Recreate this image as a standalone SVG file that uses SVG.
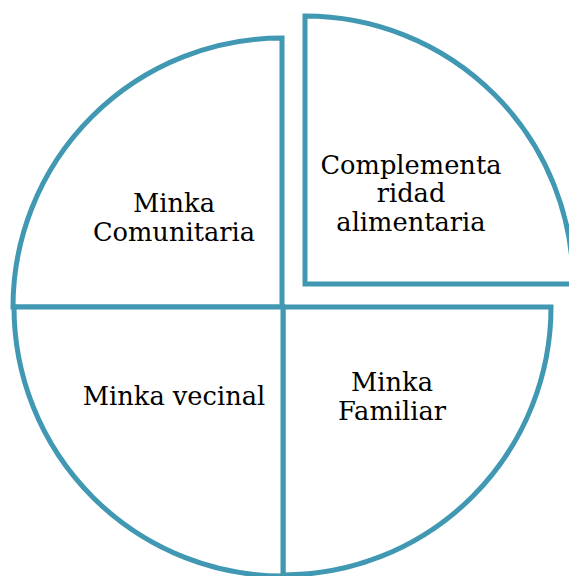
<svg xmlns="http://www.w3.org/2000/svg" width="569" height="576" viewBox="0 0 569 576">
<style>
.q{fill:#fff;stroke:#4198B2;stroke-width:5;stroke-linejoin:miter}
.t{font-family:"DejaVu Serif","Liberation Serif",serif;font-size:25.7px;fill:#000;text-anchor:middle}
</style>
<rect width="569" height="576" fill="#fff"/>
<g id="minka-comunitaria">
<path class="q" d="M 282 307 L 13 307 A 269 269 0 0 1 282 38 Z"/>
<text class="t" x="174" y="212">Minka</text>
<text class="t" x="174" y="241">Comunitaria</text>
</g>
<g id="complementariedad">
<path class="q" d="M 305 284 L 305 16 A 268 268 0 0 1 573 284 Z"/>
<text class="t" x="411" y="174">Complementa</text>
<text class="t" x="411" y="202">ridad</text>
<text class="t" x="411" y="231">alimentaria</text>
</g>
<g id="minka-familiar">
<path class="q" d="M 283 307 L 551 307 A 268 268 0 0 1 283 575 Z"/>
<text class="t" x="392" y="391">Minka</text>
<text class="t" x="392" y="420">Familiar</text>
</g>
<g id="minka-vecinal">
<path class="q" d="M 283 307 L 283 576 A 269 269 0 0 1 14 307 Z"/>
<text class="t" x="174" y="405">Minka vecinal</text>
</g>
<g id="connectors"/>
</svg>
